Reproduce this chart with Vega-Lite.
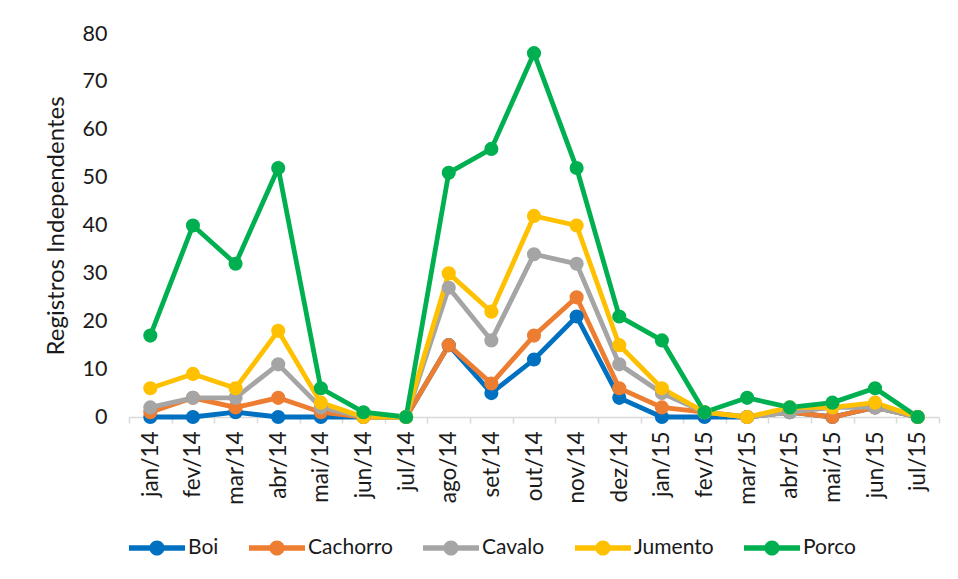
{
  "$schema": "https://vega.github.io/schema/vega-lite/v6.json",
  "width": 810,
  "height": 383,
  "autosize": {"type": "none"},
  "padding": {"left": 129, "top": 34, "right": 19, "bottom": 162},
  "background": "white",
  "config": {
    "font": "Lato",
    "view": {"stroke": null},
    "axis": {"labelColor": "#1a1a1a", "titleColor": "#1a1a1a", "labelFont": "Lato", "titleFont": "Lato"}
  },
  "data": {
    "values": [
      {"mes": "jan/14", "especie": "Boi", "n": 0},
      {"mes": "fev/14", "especie": "Boi", "n": 0},
      {"mes": "mar/14", "especie": "Boi", "n": 1},
      {"mes": "abr/14", "especie": "Boi", "n": 0},
      {"mes": "mai/14", "especie": "Boi", "n": 0},
      {"mes": "jun/14", "especie": "Boi", "n": 0},
      {"mes": "jul/14", "especie": "Boi", "n": 0},
      {"mes": "ago/14", "especie": "Boi", "n": 15},
      {"mes": "set/14", "especie": "Boi", "n": 5},
      {"mes": "out/14", "especie": "Boi", "n": 12},
      {"mes": "nov/14", "especie": "Boi", "n": 21},
      {"mes": "dez/14", "especie": "Boi", "n": 4},
      {"mes": "jan/15", "especie": "Boi", "n": 0},
      {"mes": "fev/15", "especie": "Boi", "n": 0},
      {"mes": "mar/15", "especie": "Boi", "n": 0},
      {"mes": "abr/15", "especie": "Boi", "n": 1},
      {"mes": "mai/15", "especie": "Boi", "n": 0},
      {"mes": "jun/15", "especie": "Boi", "n": 2},
      {"mes": "jul/15", "especie": "Boi", "n": 0},

      {"mes": "jan/14", "especie": "Cachorro", "n": 1},
      {"mes": "fev/14", "especie": "Cachorro", "n": 4},
      {"mes": "mar/14", "especie": "Cachorro", "n": 2},
      {"mes": "abr/14", "especie": "Cachorro", "n": 4},
      {"mes": "mai/14", "especie": "Cachorro", "n": 1},
      {"mes": "jun/14", "especie": "Cachorro", "n": 0},
      {"mes": "jul/14", "especie": "Cachorro", "n": 0},
      {"mes": "ago/14", "especie": "Cachorro", "n": 15},
      {"mes": "set/14", "especie": "Cachorro", "n": 7},
      {"mes": "out/14", "especie": "Cachorro", "n": 17},
      {"mes": "nov/14", "especie": "Cachorro", "n": 25},
      {"mes": "dez/14", "especie": "Cachorro", "n": 6},
      {"mes": "jan/15", "especie": "Cachorro", "n": 2},
      {"mes": "fev/15", "especie": "Cachorro", "n": 1},
      {"mes": "mar/15", "especie": "Cachorro", "n": 0},
      {"mes": "abr/15", "especie": "Cachorro", "n": 1},
      {"mes": "mai/15", "especie": "Cachorro", "n": 0},
      {"mes": "jun/15", "especie": "Cachorro", "n": 2},
      {"mes": "jul/15", "especie": "Cachorro", "n": 0},

      {"mes": "jan/14", "especie": "Cavalo", "n": 2},
      {"mes": "fev/14", "especie": "Cavalo", "n": 4},
      {"mes": "mar/14", "especie": "Cavalo", "n": 4},
      {"mes": "abr/14", "especie": "Cavalo", "n": 11},
      {"mes": "mai/14", "especie": "Cavalo", "n": 2},
      {"mes": "jun/14", "especie": "Cavalo", "n": 0},
      {"mes": "jul/14", "especie": "Cavalo", "n": 0},
      {"mes": "ago/14", "especie": "Cavalo", "n": 27},
      {"mes": "set/14", "especie": "Cavalo", "n": 16},
      {"mes": "out/14", "especie": "Cavalo", "n": 34},
      {"mes": "nov/14", "especie": "Cavalo", "n": 32},
      {"mes": "dez/14", "especie": "Cavalo", "n": 11},
      {"mes": "jan/15", "especie": "Cavalo", "n": 5},
      {"mes": "fev/15", "especie": "Cavalo", "n": 1},
      {"mes": "mar/15", "especie": "Cavalo", "n": 0},
      {"mes": "abr/15", "especie": "Cavalo", "n": 1},
      {"mes": "mai/15", "especie": "Cavalo", "n": 2},
      {"mes": "jun/15", "especie": "Cavalo", "n": 2},
      {"mes": "jul/15", "especie": "Cavalo", "n": 0},

      {"mes": "jan/14", "especie": "Jumento", "n": 6},
      {"mes": "fev/14", "especie": "Jumento", "n": 9},
      {"mes": "mar/14", "especie": "Jumento", "n": 6},
      {"mes": "abr/14", "especie": "Jumento", "n": 18},
      {"mes": "mai/14", "especie": "Jumento", "n": 3},
      {"mes": "jun/14", "especie": "Jumento", "n": 0},
      {"mes": "jul/14", "especie": "Jumento", "n": 0},
      {"mes": "ago/14", "especie": "Jumento", "n": 30},
      {"mes": "set/14", "especie": "Jumento", "n": 22},
      {"mes": "out/14", "especie": "Jumento", "n": 42},
      {"mes": "nov/14", "especie": "Jumento", "n": 40},
      {"mes": "dez/14", "especie": "Jumento", "n": 15},
      {"mes": "jan/15", "especie": "Jumento", "n": 6},
      {"mes": "fev/15", "especie": "Jumento", "n": 1},
      {"mes": "mar/15", "especie": "Jumento", "n": 0},
      {"mes": "abr/15", "especie": "Jumento", "n": 2},
      {"mes": "mai/15", "especie": "Jumento", "n": 2},
      {"mes": "jun/15", "especie": "Jumento", "n": 3},
      {"mes": "jul/15", "especie": "Jumento", "n": 0},

      {"mes": "jan/14", "especie": "Porco", "n": 17},
      {"mes": "fev/14", "especie": "Porco", "n": 40},
      {"mes": "mar/14", "especie": "Porco", "n": 32},
      {"mes": "abr/14", "especie": "Porco", "n": 52},
      {"mes": "mai/14", "especie": "Porco", "n": 6},
      {"mes": "jun/14", "especie": "Porco", "n": 1},
      {"mes": "jul/14", "especie": "Porco", "n": 0},
      {"mes": "ago/14", "especie": "Porco", "n": 51},
      {"mes": "set/14", "especie": "Porco", "n": 56},
      {"mes": "out/14", "especie": "Porco", "n": 76},
      {"mes": "nov/14", "especie": "Porco", "n": 52},
      {"mes": "dez/14", "especie": "Porco", "n": 21},
      {"mes": "jan/15", "especie": "Porco", "n": 16},
      {"mes": "fev/15", "especie": "Porco", "n": 1},
      {"mes": "mar/15", "especie": "Porco", "n": 4},
      {"mes": "abr/15", "especie": "Porco", "n": 2},
      {"mes": "mai/15", "especie": "Porco", "n": 3},
      {"mes": "jun/15", "especie": "Porco", "n": 6},
      {"mes": "jul/15", "especie": "Porco", "n": 0}
    ]
  },
  "encoding": {
    "x": {
      "field": "mes",
      "type": "ordinal",
      "sort": null,
      "scale": {"type": "band", "paddingInner": 0, "paddingOuter": 0},
      "axis": {
        "title": null,
        "labelAngle": -90,
        "labelFontSize": 22.5,
        "labelPadding": 8,
        "tickBand": "extent",
        "tickSize": 6,
        "tickColor": "#d9d9d9",
        "domainColor": "#d9d9d9",
        "domainWidth": 1.5,
        "tickWidth": 1.5
      }
    },
    "y": {
      "field": "n",
      "type": "quantitative",
      "scale": {"domain": [0, 80], "nice": false},
      "axis": {
        "title": "Registros Independentes",
        "titleFontSize": 24,
        "titleFontWeight": "normal",
        "titlePadding": 14,
        "labelFontSize": 21.5,
        "labelPadding": 22,
        "values": [0, 10, 20, 30, 40, 50, 60, 70, 80],
        "domain": false,
        "ticks": false,
        "grid": false
      }
    },
    "color": {
      "field": "especie",
      "type": "nominal",
      "sort": ["Boi", "Cachorro", "Cavalo", "Jumento", "Porco"],
      "scale": {
        "domain": ["Boi", "Cachorro", "Cavalo", "Jumento", "Porco"],
        "range": ["#0070C0", "#ED7D31", "#A5A5A5", "#FFC000", "#00B050"]
      },
      "legend": {
        "title": null,
        "orient": "bottom",
        "direction": "horizontal",
        "labelFontSize": 21,
        "labelColor": "#1a1a1a",
        "labelFont": "Lato",
        "symbolType": "M-1,-0.1H1V0.1H-1Z M-0.27,0A0.27,0.27 0 1,1 0.27,0A0.27,0.27 0 1,1 -0.27,0Z",
        "symbolSize": 3136,
        "symbolStrokeWidth": 0,
        "labelOffset": 3,
        "columnPadding": 30,
        "offset": 15,
        "encode": {
          "symbols": {"update": {"fill": {"scale": "color", "field": "value"}, "fillOpacity": {"value": 1}}}
        }
      }
    }
  },
  "layer": [
    {"mark": {"type": "line", "strokeWidth": 4.8}},
    {"mark": {"type": "point", "filled": true, "opacity": 1, "size": 200, "shape": "circle"}}
  ]
}
